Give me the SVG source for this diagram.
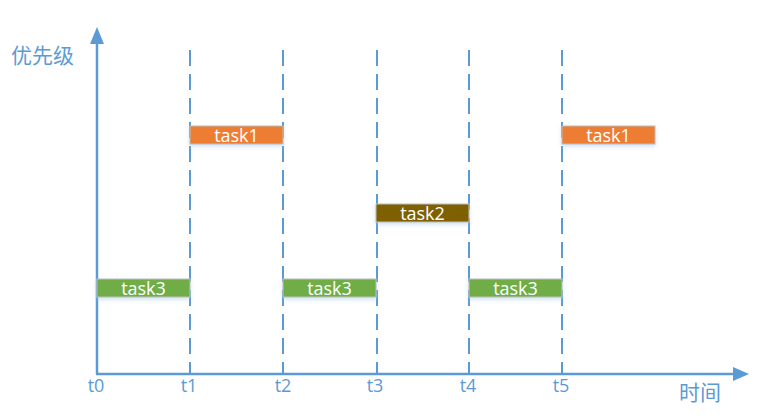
<svg xmlns="http://www.w3.org/2000/svg" width="761" height="416" viewBox="0 0 761 416">
<style>
.axis{stroke:#5B9BD5;stroke-width:2.5;fill:none}
.dash{stroke:#5B9BD5;stroke-width:2;stroke-dasharray:16 8;fill:none}
.bar{stroke:#BFBFBF;stroke-width:1}
.bt{font-family:"Open Sans","Noto Sans",sans-serif;font-size:18px;fill:#fff;text-anchor:middle}
.tl{font-family:"Open Sans","Noto Sans",sans-serif;font-size:18px;fill:#5B9BD5;text-anchor:middle}
.cl{font-family:"Noto Sans CJK SC",sans-serif;font-size:21px;fill:#5B9BD5}
</style>
<defs>
<filter id="sh" x="-10%" y="-30%" width="120%" height="180%"><feDropShadow dx="0" dy="2" stdDeviation="2" flood-color="#9DC3E6" flood-opacity="0.5"/></filter>
</defs>
<g id="connectors">
<line class="dash" x1="190" y1="50" x2="190" y2="374"/>
<line class="dash" x1="283" y1="50" x2="283" y2="374"/>
<line class="dash" x1="377" y1="50" x2="377" y2="374"/>
<line class="dash" x1="469" y1="50" x2="469" y2="374"/>
<line class="dash" x1="562" y1="50" x2="562" y2="374"/>
<line class="axis" x1="97" y1="374" x2="97" y2="40"/>
<polygon points="97,27 90,44 104,44" fill="#5B9BD5"/>
<line class="axis" x1="96" y1="374" x2="737" y2="374"/>
<polygon points="749,374 733,367 733,381" fill="#5B9BD5"/>
</g>
<g id="task1a"><rect class="bar" x="190" y="126" width="93" height="18" fill="#ED7D31" filter="url(#sh)"/><text class="bt" x="236.5" y="142">task1</text></g>
<g id="task1b"><rect class="bar" x="562" y="126" width="93" height="18" fill="#ED7D31" filter="url(#sh)"/><text class="bt" x="608.5" y="142">task1</text></g>
<g id="task2"><rect class="bar" x="376" y="204" width="93" height="18" fill="#7F6000" filter="url(#sh)"/><text class="bt" x="422.5" y="220">task2</text></g>
<g id="task3a"><rect class="bar" x="97" y="279" width="93" height="18" fill="#70AD47" filter="url(#sh)"/><text class="bt" x="143.5" y="295">task3</text></g>
<g id="task3b"><rect class="bar" x="283" y="279" width="93" height="18" fill="#70AD47" filter="url(#sh)"/><text class="bt" x="329.5" y="295">task3</text></g>
<g id="task3c"><rect class="bar" x="469" y="279" width="93" height="18" fill="#70AD47" filter="url(#sh)"/><text class="bt" x="515.5" y="295">task3</text></g>
<g id="labels">
<text class="tl" x="96" y="392">t0</text>
<text class="tl" x="189" y="392">t1</text>
<text class="tl" x="283" y="392">t2</text>
<text class="tl" x="375" y="392">t3</text>
<text class="tl" x="468" y="392">t4</text>
<text class="tl" x="561" y="392">t5</text>
<text class="cl" x="11" y="63">优先级</text>
<text class="cl" x="679" y="400">时间</text>
</g>
</svg>
